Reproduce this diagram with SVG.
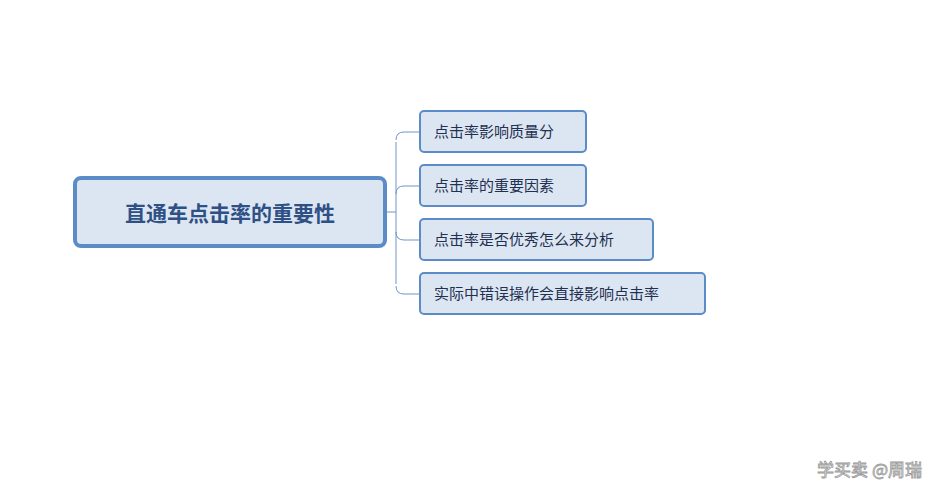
<svg xmlns="http://www.w3.org/2000/svg" width="929" height="486" viewBox="0 0 929 486">
<style>
.c{fill:#dce6f2;stroke:#5b8cc8;stroke-width:2}
.t{font-family:"Noto Sans CJK SC",sans-serif;font-size:15px;fill:#1f3050}
.line{fill:none;stroke:#6f95c8;stroke-width:1}
</style>
<rect width="929" height="486" fill="#fff"/>
<g id="connectors">
<path class="line" d="M385 212 H396 M396 142 V284"/>
<path class="line" d="M420 132 H404 Q396 132 396 140 M420 186 H404 Q396 186 396 194 M396 232 Q396 240 404 240 H420 M396 286 Q396 294 404 294 H420"/>
</g>
<g id="root">
<rect x="75" y="178" width="310" height="68" rx="6" fill="#dce6f2" stroke="#5b8cc8" stroke-width="4"/>
<text x="230" y="221" text-anchor="middle" font-family="'Noto Sans CJK SC',sans-serif" font-size="21" font-weight="bold" fill="#2f5085">直通车点击率的重要性</text>
</g>
<g id="n1"><rect class="c" x="420" y="111" width="166" height="41" rx="4"/><text class="t" x="434" y="137">点击率影响质量分</text></g>
<g id="n2"><rect class="c" x="420" y="165" width="166" height="41" rx="4"/><text class="t" x="434" y="191">点击率的重要因素</text></g>
<g id="n3"><rect class="c" x="420" y="219" width="233" height="41" rx="4"/><text class="t" x="434" y="245">点击率是否优秀怎么来分析</text></g>
<g id="n4"><rect class="c" x="420" y="273" width="285" height="41" rx="4"/><text class="t" x="434" y="299">实际中错误操作会直接影响点击率</text></g>
<text x="922" y="476" text-anchor="end" font-family="'Noto Sans CJK SC',sans-serif" font-size="17" fill="#ffffff" stroke="#999" stroke-width="0.8">学买卖 @周瑞</text>
</svg>
